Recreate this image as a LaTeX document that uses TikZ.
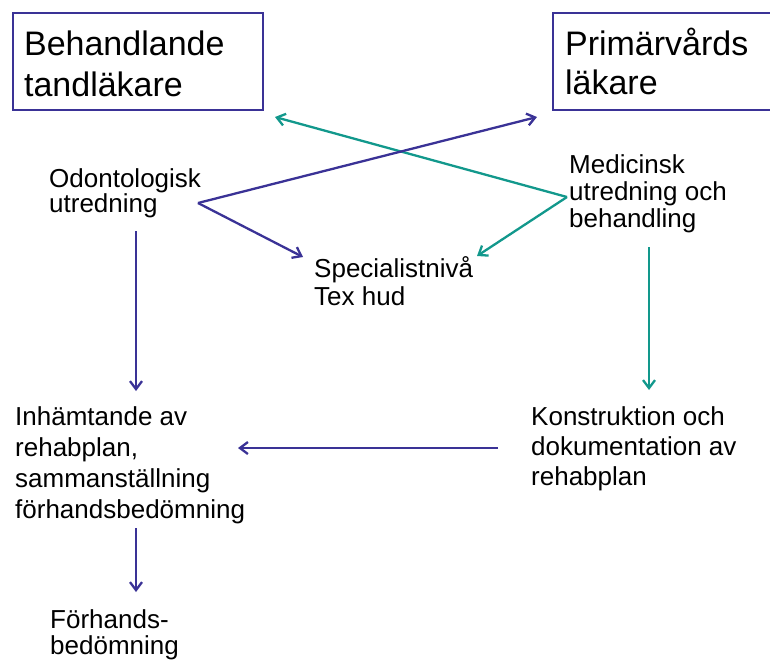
\documentclass[tikz,border=0pt]{standalone}
\usepackage{fontspec}
\setmainfont{Liberation Sans}
\usetikzlibrary{arrows.meta}
\definecolor{dblue}{RGB}{58,50,150}
\definecolor{dteal}{RGB}{18,152,140}
\tikzset{
  txt/.style={anchor=base west, inner sep=0pt, font=\fontsize{26pt}{26pt}\selectfont},
  hbox/.style={draw=dblue, line width=2.2pt, inner xsep=#1, inner ysep=0pt,
    text height=42pt, text depth=55pt, anchor=base west,
    font=\fontsize{34pt}{34pt}\selectfont},
  arr/.style={line width=2.3pt, -{Straight Barb[length=8pt,width=12pt]}},
  barr/.style={arr, draw=dblue},
  tarr/.style={arr, draw=dteal}
}
\newcommand{\stack}[2]{\vtop{\baselineskip=#1pt\relax #2}}
\begin{document}
\begin{tikzpicture}[x=1pt,y=-1pt]
\useasboundingbox (0,0) rectangle (770,662);
\clip (0,0) rectangle (770,662);
% boxes
\node[hbox=11pt] (beh) at (12,55) {\makebox[228pt][l]{\stack{41}{\hbox{Behandlande}\hbox{tandläkare}}}};
\node[hbox=12pt] (prim) at (552,55) {\makebox[226pt][l]{\stack{39}{\hbox{Primärvårds}\hbox{läkare}}}};
% texts
\node[txt] (odo) at (49,187) {\stack{25}{\hbox{Odontologisk}\hbox{utredning}}};
\node[txt] (med) at (569,173) {\stack{27}{\hbox{Medicinsk}\hbox{utredning och}\hbox{behandling}}};
\node[txt] (spec) at (314,277) {\stack{28}{\hbox{Specialistnivå}\hbox{Tex hud}}};
\node[txt] (inh) at (15,425) {\stack{31}{\hbox{Inhämtande av}\hbox{rehabplan,}\hbox{sammanställning}\hbox{förhandsbedömning}}};
\node[txt] (kon) at (531,425) {\stack{30}{\hbox{Konstruktion och}\hbox{dokumentation av}\hbox{rehabplan}}};
\node[txt] (forh) at (50,628) {\stack{26}{\hbox{Förhands-}\hbox{bedömning}}};
% connector end points
\coordinate (odoR) at (198,203);
\coordinate (medL) at (567,197);
\coordinate (begIn) at (275,117);
\coordinate (primIn) at (537,117);
\coordinate (specL) at (303,257);
\coordinate (specR) at (477,256);
\coordinate (odoB) at (136,231);
\coordinate (inhT) at (136,391);
\coordinate (medB) at (649,247);
\coordinate (konT) at (649,390);
\coordinate (konL) at (498,448);
\coordinate (inhR) at (238,448);
\coordinate (inhB) at (136,528);
\coordinate (forT) at (136,592);
% connectors
\draw[tarr] (medL) -- (begIn);
\draw[tarr] (medL) -- (specR);
\draw[barr] (odoR) -- (primIn);
\draw[barr] (odoR) -- (specL);
\draw[barr] (odoB) -- (inhT);
\draw[tarr] (medB) -- (konT);
\draw[barr] (konL) -- (inhR);
\draw[barr] (inhB) -- (forT);
\end{tikzpicture}
\end{document}
